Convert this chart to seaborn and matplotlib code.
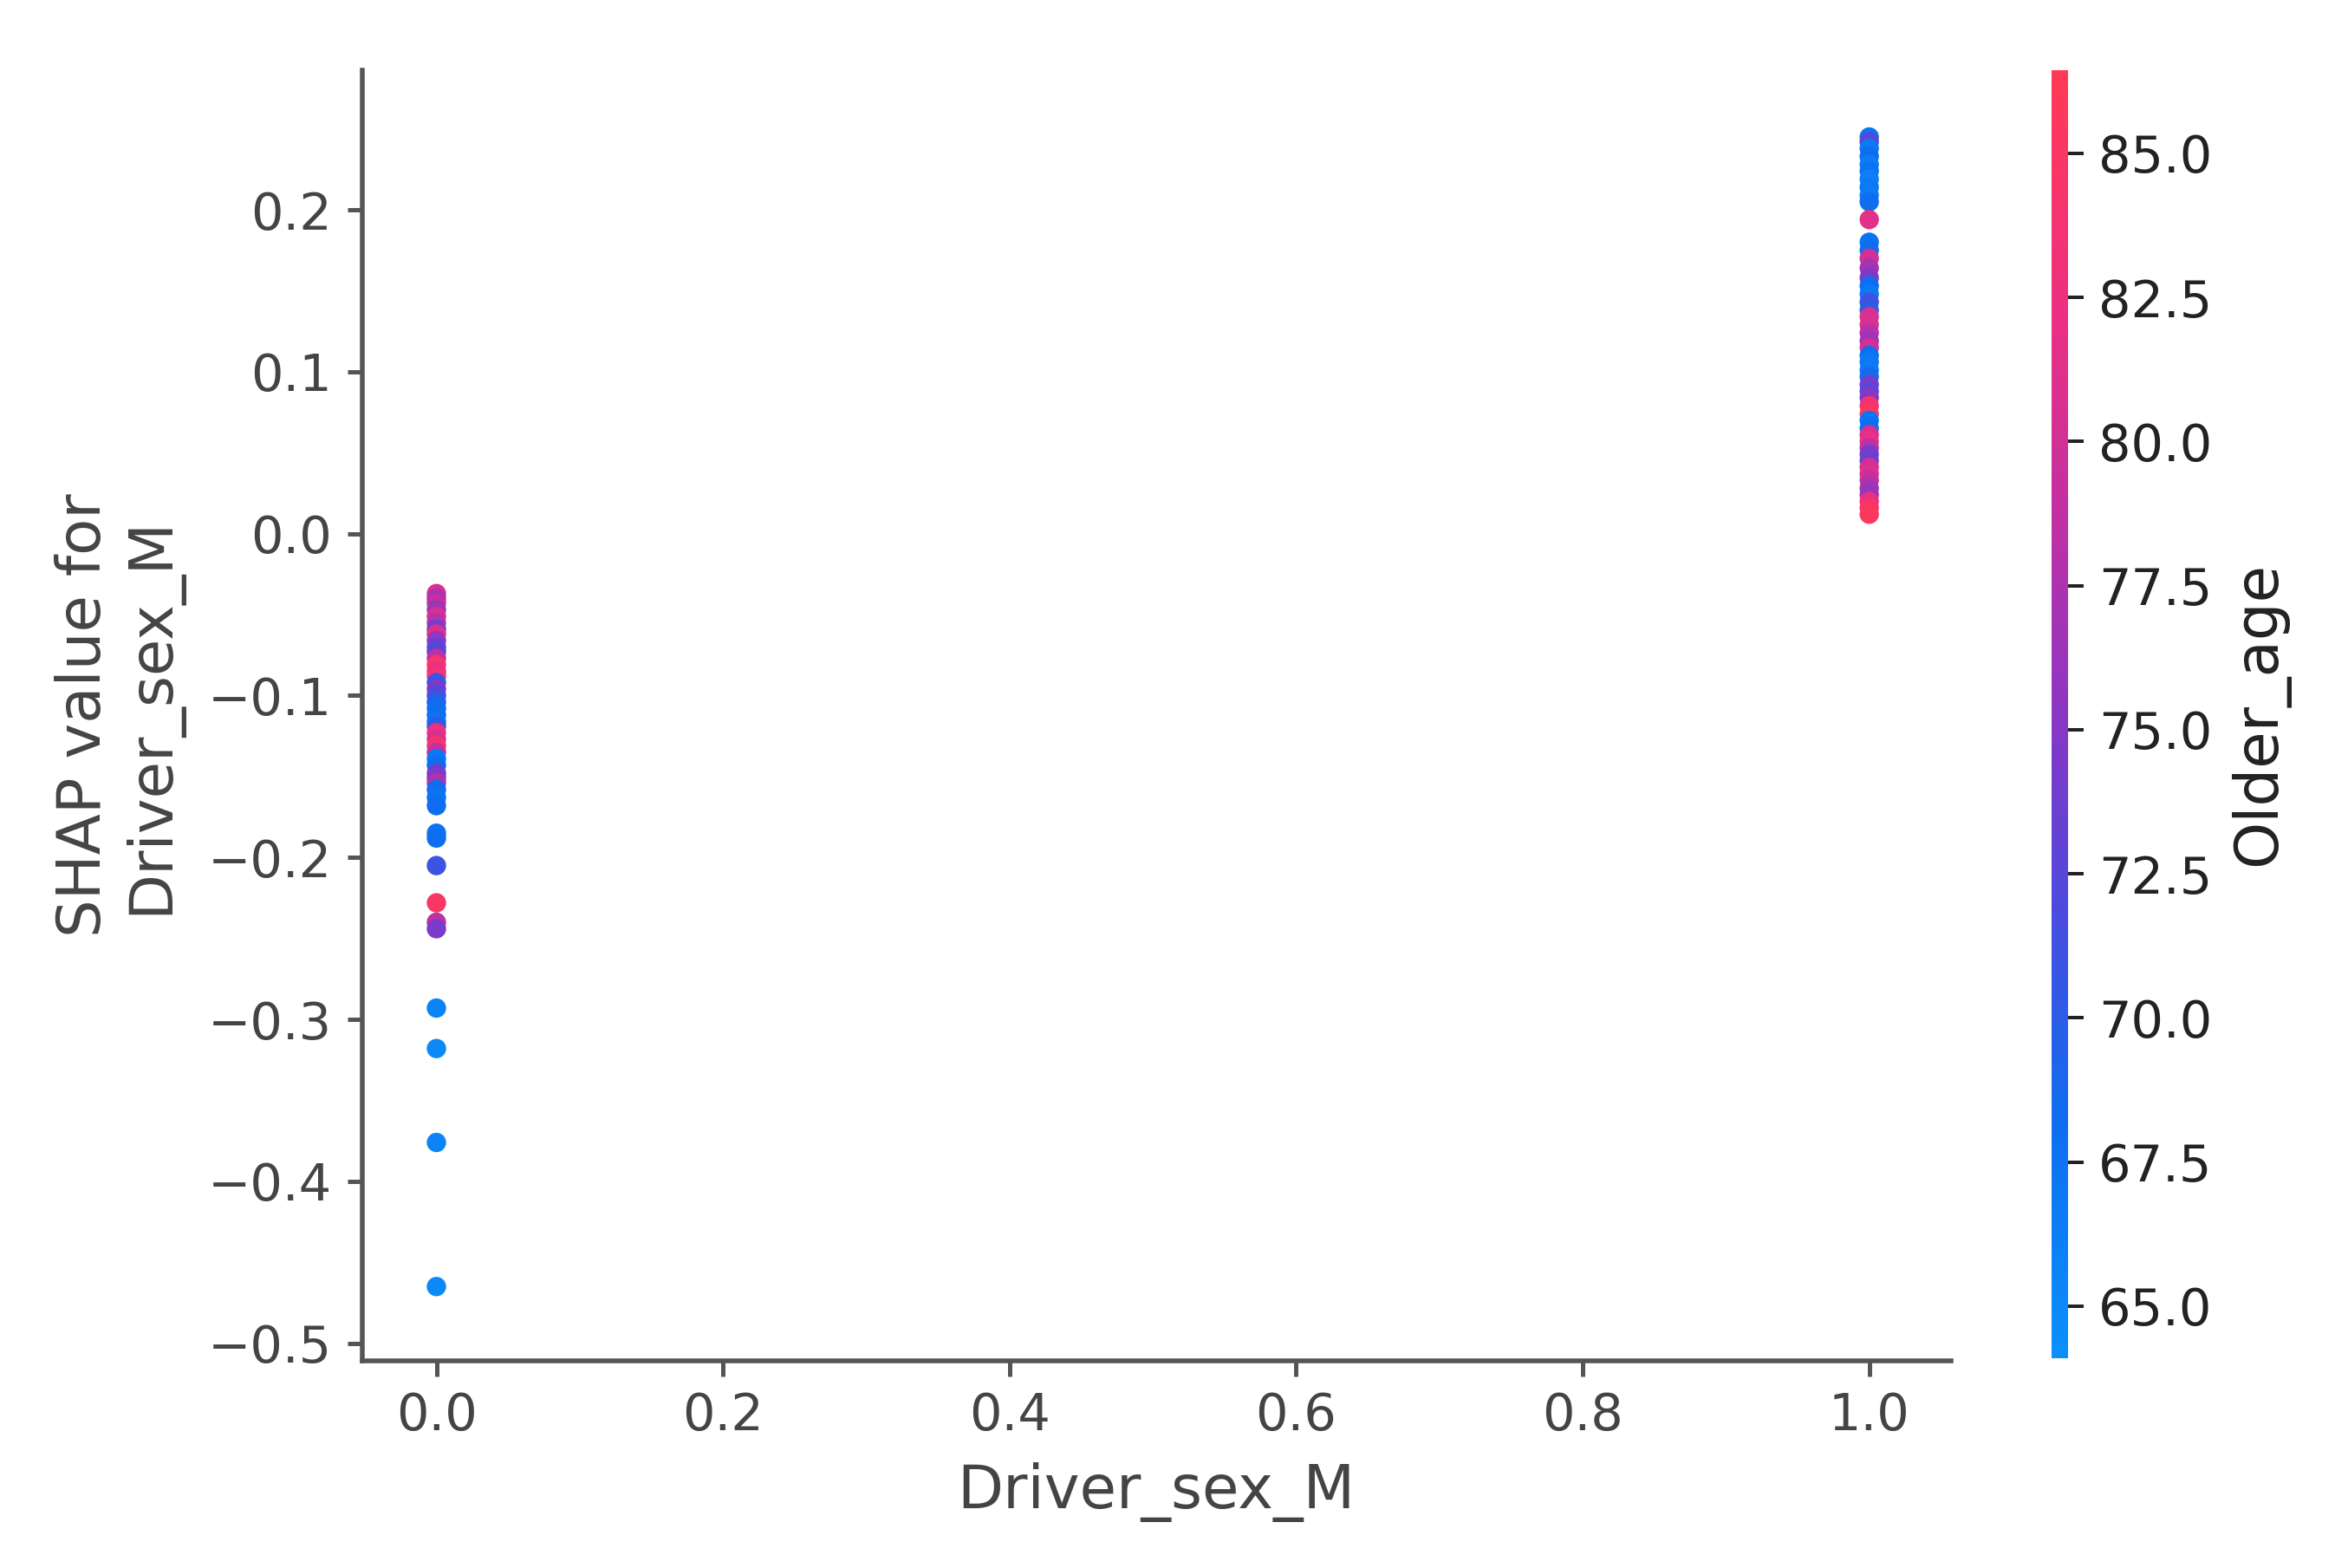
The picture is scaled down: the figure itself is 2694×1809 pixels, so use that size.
import numpy as np
import pandas as pd
import seaborn as sns
import matplotlib.pyplot as plt
from matplotlib.colors import LinearSegmentedColormap, Normalize
from matplotlib.cm import ScalarMappable

# SHAP values, with the Older_age colour of each dot
shap_female = [-0.037, -0.040, -0.043, -0.047, -0.051, -0.055, -0.059, -0.062, -0.066, -0.070,
               -0.073, -0.077, -0.081, -0.085, -0.088, -0.092, -0.096, -0.100, -0.104, -0.108,
               -0.112, -0.116, -0.119, -0.123, -0.127, -0.131, -0.135, -0.139, -0.143, -0.148,
               -0.151, -0.154, -0.158, -0.163, -0.168, -0.185, -0.188, -0.205, -0.228, -0.240,
               -0.244, -0.293, -0.318, -0.376, -0.465]
age_female = [80.5, 77.0, 79.0, 76.5, 80.0, 78.0, 74.0, 81.0, 76.0, 73.5,
              72.5, 78.5, 84.5, 82.0, 83.5, 71.0, 74.5, 72.0, 69.5, 68.5,
              68.0, 67.5, 70.0, 82.5, 80.5, 84.0, 79.0, 67.0, 68.0, 73.5,
              75.0, 77.5, 68.5, 67.5, 68.0, 67.5, 68.0, 71.0, 85.0, 78.5,
              74.5, 65.5, 65.0, 65.5, 65.0]

shap_male = [0.245, 0.242, 0.238, 0.233, 0.228, 0.224, 0.219, 0.214, 0.209, 0.205,
             0.194, 0.180, 0.175, 0.170, 0.164, 0.158, 0.153, 0.148, 0.143, 0.138,
             0.134, 0.129, 0.124, 0.119, 0.115, 0.110, 0.106, 0.101, 0.097, 0.092,
             0.088, 0.084, 0.079, 0.074, 0.070, 0.065, 0.061, 0.057, 0.053, 0.049,
             0.045, 0.041, 0.037, 0.033, 0.028, 0.024, 0.020, 0.016, 0.012]
age_male = [67.5, 72.5, 67.0, 68.0, 66.5, 67.5, 66.0, 67.0, 66.5, 68.0,
            81.5, 67.5, 68.5, 80.0, 77.0, 74.5, 68.0, 67.0, 71.0, 70.0,
            80.5, 81.0, 78.0, 76.5, 80.0, 68.0, 67.0, 66.5, 68.5, 74.0,
            73.0, 75.0, 84.0, 85.5, 67.5, 68.0, 80.5, 82.0, 78.5, 74.5,
            73.5, 80.0, 81.0, 79.0, 77.0, 76.0, 82.0, 84.5, 85.5]

ticks_cb = [65.0, 67.5, 70.0, 72.5, 75.0, 77.5, 80.0, 82.5, 85.0]

df = pd.DataFrame({
    'Driver_sex_M': [0.0] * len(shap_female) + [1.0] * len(shap_male),
    'shap': shap_female + shap_male,
    'Older_age': age_female + age_male,
})

red_blue = LinearSegmentedColormap.from_list('red_blue', [
    (0.00, '#0a90fb'), (0.18, '#0d6ef0'), (0.35, '#4c4ade'), (0.50, '#8a36c4'),
    (0.65, '#c030a4'), (0.82, '#ee3080'), (1.00, '#ff3a55')])
vmin, vmax = 64.1, 86.45

sns.set_style('white')
plt.rcParams['font.family'] = ['DejaVu Sans']
axis_color = '#444444'

fig = plt.figure(figsize=(2694 / 360, 1809 / 360), dpi=360)
ax = fig.add_axes([0.155, 0.132, 0.6805, 0.8235])
cax = fig.add_axes([0.8785, 0.134, 0.0072, 0.8215])

sns.scatterplot(data=df, x='Driver_sex_M', y='shap', hue='Older_age',
                palette=red_blue, hue_norm=(vmin, vmax), s=20, linewidth=0,
                legend=False, ax=ax)

ax.set_xlim(-0.052, 1.057)
ax.set_ylim(-0.511, 0.2865)
ax.set_xticks([0.0, 0.2, 0.4, 0.6, 0.8, 1.0])
ax.set_yticks([-0.5, -0.4, -0.3, -0.2, -0.1, 0.0, 0.1, 0.2])
ax.set_xlabel('Driver_sex_M', color=axis_color, fontsize=13.8, labelpad=5)
ax.set_ylabel('SHAP value for\nDriver_sex_M', color=axis_color, fontsize=13.8, labelpad=6)
ax.tick_params(color='#555555', labelcolor=axis_color, labelsize=11.8,
               bottom=True, left=True, length=3.5, width=1.0)
ax.spines['top'].set_visible(False)
ax.spines['right'].set_visible(False)
for side in ['left', 'bottom']:
    ax.spines[side].set_color('#555555')
    ax.spines[side].set_linewidth(1.1)

sm = ScalarMappable(norm=Normalize(vmin, vmax), cmap=red_blue)
cb = fig.colorbar(sm, cax=cax, ticks=ticks_cb)
cb.outline.set_visible(False)
cb.ax.tick_params(labelsize=11.8, length=3.5, colors='#222222')
cb.set_label('Older_age', size=13.8, color='#222222')

fig.savefig('out.png', dpi=360, facecolor='white')
